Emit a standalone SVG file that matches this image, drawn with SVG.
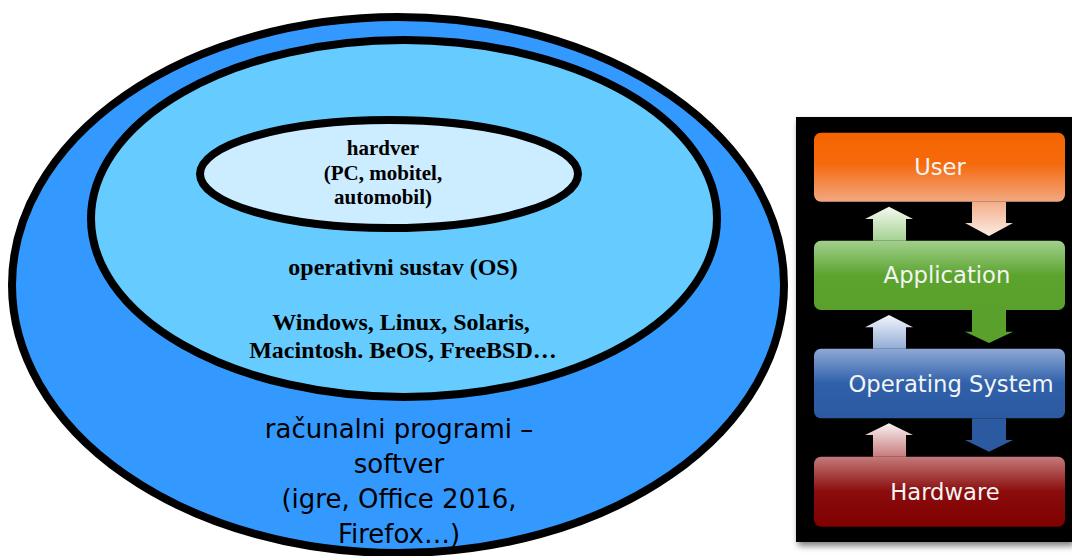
<svg xmlns="http://www.w3.org/2000/svg" width="1072" height="556" viewBox="0 0 1072 556">
<style>
.ell{stroke:#000;stroke-width:8}
.tb{font-family:"Liberation Serif","Times New Roman",serif;font-weight:bold;fill:#000;text-anchor:middle}
.ts{font-family:"DejaVu Sans",Verdana,sans-serif;fill:#000;text-anchor:middle;font-size:26px}
.tw{font-family:"DejaVu Sans",Verdana,sans-serif;fill:#f4f4f4;text-anchor:middle;font-size:22.7px}
</style>
<defs>
<filter id="sh" x="-10%" y="-10%" width="130%" height="130%">
<feDropShadow dx="2" dy="4" stdDeviation="3" flood-color="#000" flood-opacity="0.5"/>
</filter>
<linearGradient id="gOr" x1="0" y1="0" x2="0" y2="1"><stop offset="0" stop-color="#f66400"/><stop offset="0.45" stop-color="#f56a0c"/><stop offset="1" stop-color="#f2a882"/></linearGradient>
<linearGradient id="gGr" x1="0" y1="0" x2="0" y2="1"><stop offset="0" stop-color="#a2d08e"/><stop offset="0.5" stop-color="#5ca42e"/><stop offset="1" stop-color="#5aa02c"/></linearGradient>
<linearGradient id="gBl" x1="0" y1="0" x2="0" y2="1"><stop offset="0" stop-color="#8fa9d6"/><stop offset="0.5" stop-color="#2f60aa"/><stop offset="1" stop-color="#2c5aa0"/></linearGradient>
<linearGradient id="gRd" x1="0" y1="0" x2="0" y2="1"><stop offset="0" stop-color="#c47a7a"/><stop offset="0.5" stop-color="#8a0c0c"/><stop offset="1" stop-color="#800000"/></linearGradient>
<linearGradient id="aOr" x1="0" y1="0" x2="0" y2="1"><stop offset="0" stop-color="#f2ad88"/><stop offset="1" stop-color="#fcece2"/></linearGradient>
<linearGradient id="aGr" x1="0" y1="0" x2="0" y2="1"><stop offset="0" stop-color="#f4faf0"/><stop offset="1" stop-color="#a4d192"/></linearGradient>
<linearGradient id="aBl" x1="0" y1="0" x2="0" y2="1"><stop offset="0" stop-color="#f2f5fb"/><stop offset="1" stop-color="#92acd6"/></linearGradient>
<linearGradient id="aRd" x1="0" y1="0" x2="0" y2="1"><stop offset="0" stop-color="#faf0f0"/><stop offset="1" stop-color="#c67c7c"/></linearGradient>
</defs>
<rect width="1072" height="556" fill="#fff"/>

<g id="software">
<ellipse class="ell" cx="398" cy="285" rx="386" ry="268" fill="#3399ff"/>
<text class="ts" x="399" y="438">računalni programi –</text>
<text class="ts" x="399" y="473">softver</text>
<text class="ts" x="399" y="508">(igre, Office 2016,</text>
<text class="ts" x="399" y="543">Firefox…)</text>
</g>

<g id="os">
<ellipse class="ell" cx="404" cy="218.5" rx="313" ry="178.5" fill="#66ccff"/>
<text class="tb" x="403" y="275" font-size="24">operativni sustav (OS)</text>
<text class="tb" x="401" y="330" font-size="24">Windows, Linux, Solaris,</text>
<text class="tb" x="403" y="358" font-size="24">Macintosh. BeOS, FreeBSD…</text>
</g>

<g id="hardver">
<ellipse class="ell" cx="389" cy="174" rx="189" ry="54" fill="#ccecff"/>
<text class="tb" x="383" y="155" font-size="21">hardver</text>
<text class="tb" x="383" y="180" font-size="21">(PC, mobitel,</text>
<text class="tb" x="383" y="204" font-size="21">automobil)</text>
</g>

<g id="panel">
<rect x="796" y="117" width="276" height="425" fill="#000" filter="url(#sh)"/>
</g>

<g id="user">
<rect x="814" y="132.7" width="251" height="69" rx="7" fill="url(#gOr)"/>
<text class="tw" x="940" y="175">User</text>
</g>
<g id="application">
<rect x="814" y="240.7" width="251" height="69.3" rx="7" fill="url(#gGr)"/>
<text class="tw" x="947" y="283">Application</text>
</g>
<g id="operating-system">
<rect x="814" y="348.7" width="251" height="69.6" rx="7" fill="url(#gBl)"/>
<text class="tw" x="951" y="392">Operating System</text>
</g>
<g id="hardware">
<rect x="814" y="456.7" width="251" height="70" rx="7" fill="url(#gRd)"/>
<text class="tw" x="945" y="500">Hardware</text>
</g>

<g id="connectors">
<path d="M972,201.7 H1006 V223 H1013 L989,236 L965,223 H972 Z" fill="url(#aOr)"/>
<path d="M873,240.7 V219 H865 L889,206.7 L913,219 H906 V240.7 Z" fill="url(#aGr)"/>
<path d="M972,310 H1006 V331.7 H1013 L989,343 L965,331.7 H972 Z" fill="#5aa02c"/>
<path d="M873,348.7 V327.3 H865 L889,315 L913,327.3 H906 V348.7 Z" fill="url(#aBl)"/>
<path d="M972,418.3 H1006 V440 H1013 L989,451.7 L965,440 H972 Z" fill="#2c5aa0"/>
<path d="M873,456.7 V435 H865 L889,423.3 L913,435 H906 V456.7 Z" fill="url(#aRd)"/>
</g>
</svg>
